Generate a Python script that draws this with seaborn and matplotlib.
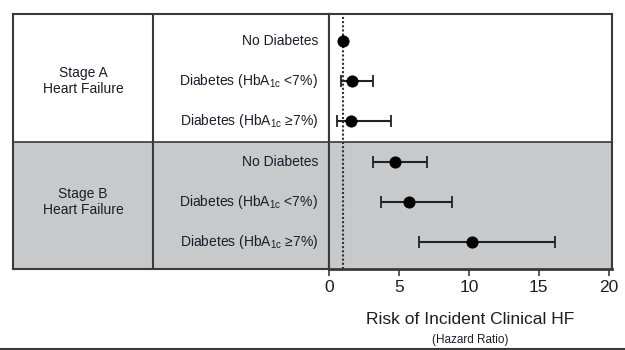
import numpy as np
import pandas as pd
import seaborn as sns
import matplotlib.pyplot as plt
from matplotlib.lines import Line2D
from matplotlib.patches import Rectangle

# data
stages = ["Stage A\nHeart Failure", "Stage B\nHeart Failure"]
groups = ["No Diabetes",
          "Diabetes (HbA$_\\mathregular{1c}$ <7%)",
          "Diabetes (HbA$_\\mathregular{1c}$ \u22657%)"]
hr = [1.0, 1.65, 1.55, 4.7, 5.7, 10.2]
ci_low = [1.0, 0.85, 0.6, 3.15, 3.7, 6.45]
ci_high = [1.0, 3.15, 4.4, 7.0, 8.8, 16.15]
x_ticks = [0, 5, 10, 15, 20]

sns.set_style("white")
plt.rcParams.update({
    "font.family": ["Liberation Sans", "DejaVu Sans"],
    "mathtext.fontset": "custom",
    "mathtext.rm": "Liberation Sans",
    "mathtext.it": "Liberation Sans:italic",
    "mathtext.bf": "Liberation Sans:bold",
})

df = pd.DataFrame({
    "stage": np.repeat(stages, len(groups)),
    "group": groups * len(stages),
    "hr": hr,
    "lo": ci_low,
    "hi": ci_high,
})
df["pos"] = np.arange(len(df))

GREY = "#c7c9ca"
EDGE = "#3a3a3a"
TXT = "#1c1c2a"
ylim = (len(df) - 0.33, -0.67)

fig = plt.figure(figsize=(6.25, 3.5), dpi=100)
ax_t = fig.add_axes([13 / 625, 1 - 269 / 350, 316 / 625, 255 / 350])
ax = fig.add_axes([329 / 625, 1 - 269 / 350, 283 / 625, 255 / 350])

# table part
ax_t.set_xlim(0, 1)
ax_t.set_ylim(*ylim)
ax_t.add_patch(Rectangle((0, 2.5), 1, 3.5, color=GREY, zorder=0))
ax_t.axvline(0.443, color=EDGE, lw=1.5)
ax_t.axhline(2.5, color=EDGE, lw=1.2)
for i, s in enumerate(stages):
    ax_t.text(0.222, 1 + 3 * i, s, ha="center", va="center",
              fontsize=10, color=TXT, linespacing=1.15)
for _, r in df.iterrows():
    ax_t.text(0.965, r["pos"], r["group"], ha="right", va="center",
              fontsize=10, color=TXT)
ax_t.set_xticks([])
ax_t.set_yticks([])
for sp in ax_t.spines.values():
    sp.set_color(EDGE)
    sp.set_linewidth(1.5)

# forest plot part
ax.add_patch(Rectangle((0, 2.5), 25, 3.5, color=GREY, zorder=0))
ax.axhline(2.5, color=EDGE, lw=1.2)
ax.axvline(1, color="#333333", lw=1.5, ls=(0, (1, 1)), zorder=1)
ax.errorbar(df["hr"], df["pos"],
            xerr=[df["hr"] - df["lo"], df["hi"] - df["hr"]],
            fmt="none", ecolor="#222222", elinewidth=1.5,
            capsize=4, capthick=1.3, zorder=2)
sns.scatterplot(data=df, x="hr", y="pos", ax=ax, color="black",
                s=65, edgecolor="black", zorder=3)
ax.set_xlim(0, 20.24)
ax.set_ylim(*ylim)
ax.set_yticks([])
ax.set_xticks(x_ticks)
ax.tick_params(axis="x", bottom=True, length=5, width=1.2, colors=EDGE,
               labelsize=12.5, labelcolor=TXT, pad=3)
ax.set_xlabel("Risk of Incident Clinical HF", fontsize=12.5,
              color=TXT, labelpad=12)
ax.set_ylabel("")
for sp in ax.spines.values():
    sp.set_color(EDGE)
    sp.set_linewidth(1.5)
ax.spines["bottom"].set_linewidth(2)
ax.text(0.5, -0.28, "(Hazard Ratio)", transform=ax.transAxes,
        ha="center", va="center", fontsize=8.5, color=TXT)

fig.add_artist(Line2D([0, 1], [1 - 348.5 / 350] * 2, color=EDGE, lw=1.5))

fig.savefig("out.png", dpi=100)
